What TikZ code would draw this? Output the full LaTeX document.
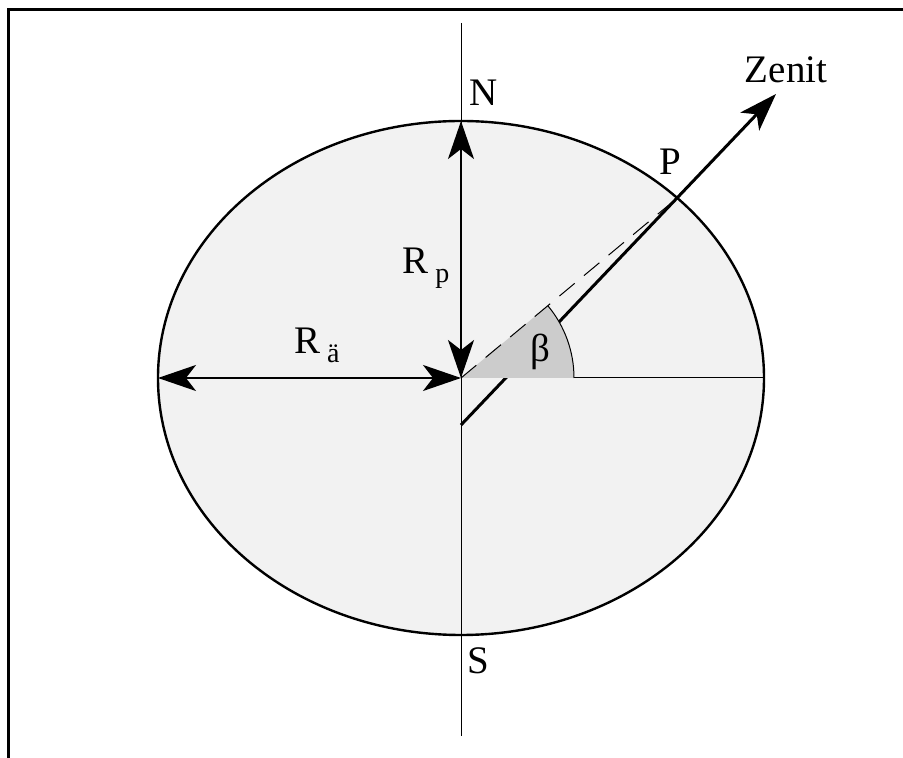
\documentclass[tikz,border=0pt]{standalone}
\usepackage{fontspec}
\setmainfont{Liberation Serif}
\usetikzlibrary{arrows.meta}

\newcommand{\lowsub}[1]{\,\raisebox{-0.5ex}{\fontsize{14}{16}\selectfont #1}}

\tikzset{
  thinline/.style={line width=0.5pt},
  radiusarrow/.style={line width=1pt,
    {Stealth[length=19pt,width=13pt,inset=5pt]}-{Stealth[length=19pt,width=13pt,inset=5pt]}},
  zenitarrow/.style={line width=1.5pt,
    -{Stealth[length=19pt,width=13pt,inset=5pt]}},
  label/.style={font=\fontsize{19.5}{23}\selectfont, inner sep=0pt}
}

\begin{document}
\begin{tikzpicture}[x=0.5pt, y=0.5pt]
  \useasboundingbox (-461,-380) rectangle (442,378);

  % Frame
  \draw[line width=1.5pt] (-452,-380) -- (-452,368) -- (442,368);

  % Earth ellipse
  \fill[gray!10] (0,0) ellipse [x radius=151.5pt, y radius=128.5pt];

  % Points
  \coordinate (O) at (0,0);
  \coordinate (Npole) at (0,257);
  \coordinate (Eq) at (-303,0);
  \coordinate (Eqr) at (303,0);
  \coordinate (P) at (215,179);
  \coordinate (zfoot) at (0,-47);
  \coordinate (ztip) at (315,284);
  \coordinate (axtop) at (0,355);
  \coordinate (axbot) at (0,-358);

  % Axes
  \draw[thinline] (axtop) -- (axbot);
  \draw[thinline] (O) -- (Eqr);

  % Zenith direction
  \draw[zenitarrow] (zfoot) -- (ztip);

  % Latitude angle
  \fill[gray!40] (O) -- (56.5pt,0) arc[start angle=0, end angle=39.8, radius=56.5pt] -- cycle;
  \draw[thinline] (56.5pt,0) arc[start angle=0, end angle=39.8, radius=56.5pt];
  \draw[thinline, dash pattern=on 10pt off 6pt] (O) -- (P);

  \draw[line width=1.2pt] (0,0) ellipse [x radius=151.5pt, y radius=128.5pt];

  % Radii
  \draw[radiusarrow] (Npole) -- (O);
  \draw[radiusarrow] (Eq) -- (O);

  % Labels
  \node[label] (nlab) at (23,285) {N};
  \node[label] (slab) at (17,-283) {S};
  \node[label] (plab) at (209,216) {P};
  \node[label] (zlab) at (325,308) {Zenit};
  \node[label] (blab) at (79,26) {β};
  \node[label] (rplab) at (-35,110) {R\lowsub{p}};
  \node[label] (ralab) at (-144,33) {R\lowsub{ä}};

\end{tikzpicture}
\end{document}
